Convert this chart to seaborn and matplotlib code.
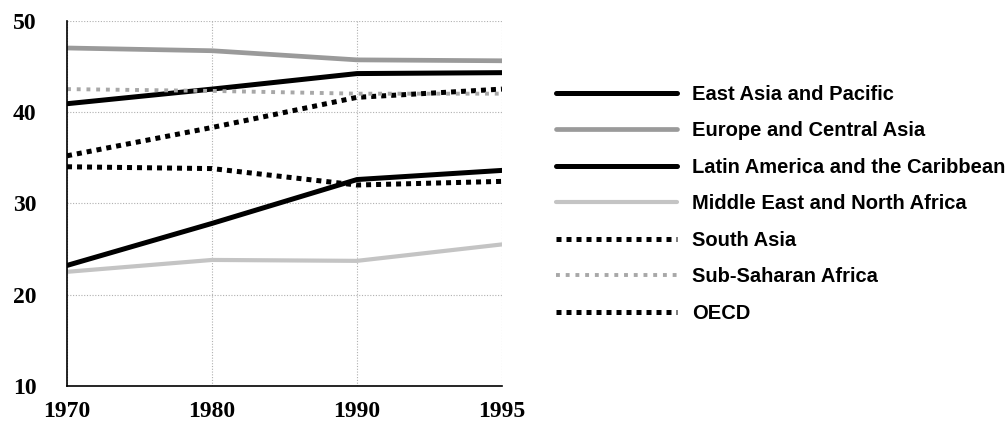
import pandas as pd
import seaborn as sns
import matplotlib.pyplot as plt

# Data
years = ['1970', '1980', '1990', '1995']
east_asia = [40.9, 42.5, 44.2, 44.3]
europe_central_asia = [47.0, 46.7, 45.7, 45.6]
latin_america = [23.2, 27.8, 32.6, 33.6]
middle_east = [22.5, 23.8, 23.7, 25.5]
south_asia = [35.2, 38.3, 41.6, 42.5]
sub_saharan = [42.5, 42.3, 42.0, 42.0]
oecd = [34.0, 33.8, 32.0, 32.4]

series = {
    'East Asia and Pacific': east_asia,
    'Europe and Central Asia': europe_central_asia,
    'Latin America and the Caribbean': latin_america,
    'Middle East and North Africa': middle_east,
    'South Asia': south_asia,
    'Sub-Saharan Africa': sub_saharan,
    'OECD': oecd,
}

# color, linewidth, dash pattern
styles = {
    'East Asia and Pacific': ('black', 3.6, None),
    'Europe and Central Asia': ('#9a9a9a', 3.4, None),
    'Latin America and the Caribbean': ('black', 3.6, None),
    'Middle East and North Africa': ('#c4c4c4', 3.0, None),
    'South Asia': ('black', 3.6, (0, (1, 1))),
    'Sub-Saharan Africa': ('#a8a8a8', 2.8, (0, (1, 1.5))),
    'OECD': ('black', 3.6, (0, (1, 1))),
}

sns.set_style('white')
plt.rcParams['font.family'] = ['Liberation Sans', 'DejaVu Sans']

fig = plt.figure(figsize=(10.05, 4.38), dpi=100)
ax = fig.add_axes([0.0667, 0.1187, 0.4328, 0.8343])

for name, vals in series.items():
    df = pd.DataFrame({'x': range(len(years)), 'y': vals})
    color, lw, dash = styles[name]
    sns.lineplot(data=df, x='x', y='y', ax=ax, color=color, linewidth=lw, label=name)
    if dash is not None:
        ax.lines[-1].set_linestyle(dash)

ax.set_xlim(0, 3)
ax.set_ylim(10, 50)
ax.set_xticks(range(len(years)))
ax.set_xticklabels(years)
ax.set_yticks([10, 20, 30, 40, 50])
ax.set_xlabel('')
ax.set_ylabel('')
ax.grid(True, color='#b0b0b0', linestyle=(0, (1, 1.5)), linewidth=0.8)

for side in ['top', 'right']:
    ax.spines[side].set_visible(False)
ax.spines['left'].set_color('black')
ax.spines['left'].set_linewidth(1.2)
ax.spines['bottom'].set_color('black')
ax.spines['bottom'].set_linewidth(1.2)

ax.tick_params(axis='x', length=10, color='#b0b0b0', width=0.8, pad=1, labelcolor='black')
ax.tick_params(axis='y', length=11, color='#b0b0b0', width=0.8, pad=11, labelcolor='black')
for lab in ax.get_xticklabels() + ax.get_yticklabels():
    lab.set_family(['Liberation Serif', 'DejaVu Serif'])
    lab.set_fontweight('bold')
    lab.set_fontsize(17)

handles, labels = ax.get_legend_handles_labels()
ax.get_legend().remove()
fig.legend(handles, labels, loc='upper left', bbox_to_anchor=(0.535, 0.848),
           frameon=False, handlelength=6.0, handletextpad=0.75, labelspacing=0.87,
           labelcolor='black',
           prop={'family': ['Liberation Sans', 'DejaVu Sans'], 'weight': 'bold', 'size': 14.5})

fig.savefig('out.png', dpi=100)
